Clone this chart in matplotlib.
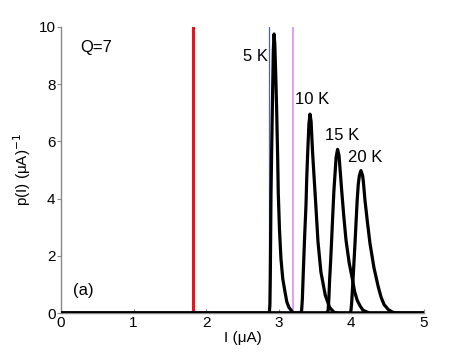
import matplotlib
matplotlib.use("Agg")
import matplotlib.pyplot as plt

plt.rcParams['font.family'] = ['Liberation Sans', 'DejaVu Sans']

# switching distributions: current (uA), p(I) (uA)^-1
i_5k = [0.0, 2.87, 2.878, 2.883, 2.888, 2.893, 2.904, 2.915, 2.925, 2.935, 2.945, 2.955, 2.97, 2.985,
        2.993, 3.01, 3.03, 3.055, 3.085, 3.11, 3.14, 3.2, 5.0]
p_5k = [0.0, 0.0, 0.3, 1.2, 2.6, 4.2, 6.0, 7.7, 9.2, 9.75, 9.4, 8.6, 7.2, 5.4,
        4.2, 2.9, 1.9, 1.2, 0.75, 0.4, 0.2, 0.0, 0.0]

i_10k = [0.0, 3.30, 3.315, 3.325, 3.338, 3.355, 3.375, 3.385, 3.397, 3.415, 3.43, 3.445, 3.466, 3.49,
         3.51, 3.54, 3.58, 3.64, 3.70, 3.76, 3.82, 5.0]
p_10k = [0.0, 0.0, 0.1, 0.5, 1.44, 2.6, 3.78, 4.7, 5.52, 6.6, 6.95, 6.7, 5.6, 4.6,
         3.78, 2.5, 1.44, 0.63, 0.2, 0.03, 0.0, 0.0]

i_15k = [0.0, 3.66, 3.68, 3.69, 3.70, 3.714, 3.728, 3.744, 3.76, 3.79, 3.81, 3.83, 3.866, 3.895,
         3.926, 3.97, 4.017, 4.045, 4.08, 4.12, 4.16, 4.25, 5.0]
p_15k = [0.0, 0.0, 0.1, 0.5, 1.15, 1.8, 2.55, 3.45, 4.3, 5.45, 5.72, 5.5, 4.3, 3.4,
         2.55, 1.75, 1.15, 0.75, 0.45, 0.25, 0.1, 0.0, 0.0]

i_20k = [0.0, 3.98, 3.995, 4.005, 4.017, 4.033, 4.05, 4.065, 4.08, 4.095, 4.11, 4.132, 4.155, 4.165,
         4.187, 4.22, 4.256, 4.31, 4.37, 4.41, 4.45, 4.51, 4.57, 4.65, 5.0]
p_20k = [0.0, 0.0, 0.1, 0.4, 0.92, 1.65, 2.44, 3.2, 3.95, 4.5, 4.8, 4.98, 4.8, 4.6,
         3.95, 3.2, 2.44, 1.6, 0.92, 0.55, 0.3, 0.12, 0.03, 0.0, 0.0]

labels = ["5 K", "10 K", "15 K", "20 K"]
label_x = [2.85, 3.22, 3.64, 3.95]
label_y = [8.95, 7.45, 6.19, 5.45]

# vertical marker currents
i_red = 1.82
i_blue = 2.87
i_violet = 3.20

fig = plt.figure(figsize=(4.69, 3.53), dpi=100)
ax = fig.add_axes([0.130, 0.113, 0.774, 0.811])

ax.plot([i_red, i_red], [0, 10], color='#e8141a', lw=2.2, zorder=2)
ax.plot([i_blue, i_blue], [0, 10], color='#5060b8', lw=0.9, zorder=2)
ax.plot([i_violet, i_violet], [0, 10], color='#d9a6f2', lw=1.5, zorder=2)

for xs, ys in [(i_20k, p_20k), (i_15k, p_15k), (i_10k, p_10k), (i_5k, p_5k)]:
    ax.plot(xs, ys, color='black', lw=2.3, zorder=3,
            solid_joinstyle='round', solid_capstyle='round')

for lab, x, y in zip(labels, label_x, label_y):
    ha = 'right' if lab == "5 K" else 'left'
    ax.text(x, y, lab, fontsize=12, ha=ha, va='center')

ax.text(0.26, 9.27, "Q=7", fontsize=12, va='center')
ax.text(0.17, 0.8, "(a)", fontsize=12, va='center')

ax.set_xlim(0, 5)
ax.set_ylim(0, 10)
ax.set_xticks([0, 1, 2, 3, 4, 5])
ax.set_yticks([0, 2, 4, 6, 8, 10])
ax.set_xlabel("I (μA)", fontsize=11, labelpad=1)
ax.set_ylabel("p(I) (μA)$^{-1}$", fontsize=11, labelpad=4)

for side in ['top', 'right']:
    ax.spines[side].set_visible(False)
for side in ['left', 'bottom']:
    ax.spines[side].set_color('#888888')
    ax.spines[side].set_linewidth(1.0)
ax.tick_params(axis='x', direction='in', length=3, color='#888888', labelsize=11, pad=2)
ax.tick_params(axis='y', direction='out', length=3, color='#888888', labelsize=11, pad=1)

fig.savefig("out.png", dpi=100)
